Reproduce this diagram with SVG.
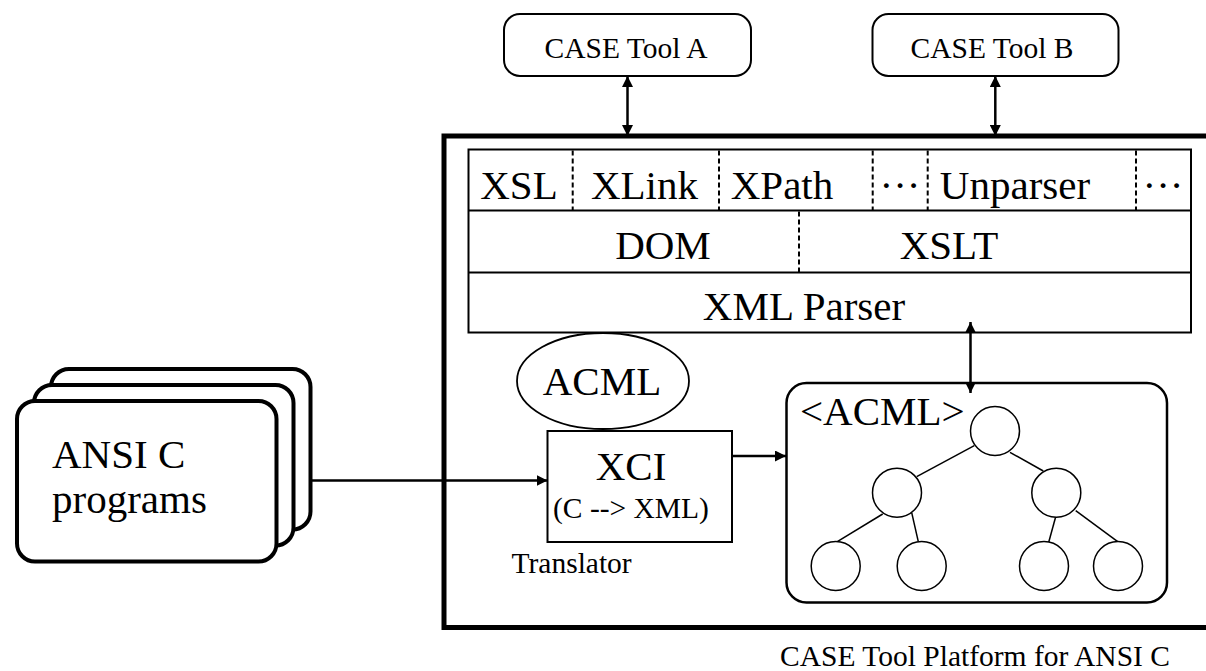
<svg xmlns="http://www.w3.org/2000/svg" width="1206" height="671" viewBox="0 0 1206 671">
  <style>
    text { font-family: "Liberation Serif", "Times New Roman", serif; fill: #000; }
    .big { font-size: 41px; }
    .small { font-size: 29.5px; }
    .mid { text-anchor: middle; }
    .box { fill: #fff; stroke: #000; stroke-width: 2; }
    .thick { fill: #fff; stroke: #000; stroke-width: 4; }
    .dash { stroke: #000; stroke-width: 2; stroke-dasharray: 5 3; fill: none; }
    .rule { stroke: #000; stroke-width: 2; fill: none; }
    .edge { stroke: #000; stroke-width: 1.5; fill: none; }
    .node { fill: #fff; stroke: #000; stroke-width: 1.5; }
    .conn { stroke: #000; stroke-width: 2.5; fill: none; }
  </style>
  <defs>
    <marker id="arrow" markerUnits="userSpaceOnUse" markerWidth="12" markerHeight="11" refX="11" refY="5.5" orient="auto-start-reverse">
      <path d="M0,0 L11,5.5 L0,11 Z" fill="#000"/>
    </marker>
  </defs>

  <rect width="1206" height="671" fill="#fff"/>

  <!-- platform frame -->
  <g id="platform">
    <rect x="444" y="136" width="770" height="491.5" fill="none" stroke="#000" stroke-width="5"/>
    <text class="small" x="780" y="666">CASE Tool Platform for ANSI C</text>
  </g>

  <!-- external CASE tools -->
  <g id="case-tool-a">
    <rect class="box" x="504" y="14" width="247" height="62" rx="16"/>
    <text class="small mid" x="626" y="58">CASE Tool A</text>
  </g>
  <g id="case-tool-b">
    <rect class="box" x="872.5" y="14" width="246" height="62" rx="16"/>
    <text class="small mid" x="992" y="58">CASE Tool B</text>
  </g>

  <!-- XML library stack -->
  <g id="xml-stack">
    <rect class="box" x="468.5" y="149.5" width="722.5" height="183"/>
    <line class="rule" x1="468.5" y1="210.5" x2="1191" y2="210.5"/>
    <line class="rule" x1="468.5" y1="272.5" x2="1191" y2="272.5"/>
    <line class="dash" x1="572.7" y1="150.5" x2="572.7" y2="210"/>
    <line class="dash" x1="719" y1="150.5" x2="719" y2="210"/>
    <line class="dash" x1="872.7" y1="150.5" x2="872.7" y2="210"/>
    <line class="dash" x1="927.7" y1="150.5" x2="927.7" y2="210"/>
    <line class="dash" x1="1136" y1="150.5" x2="1136" y2="210"/>
    <line class="dash" x1="799" y1="211.5" x2="799" y2="272"/>
    <text class="big mid" x="519" y="199">XSL</text>
    <text class="big mid" x="644.5" y="199">XLink</text>
    <text class="big mid" x="782" y="199">XPath</text>
    <text class="big mid" x="900" y="199">···</text>
    <text class="big mid" x="1015" y="199">Unparser</text>
    <text class="big mid" x="1163" y="199">···</text>
    <text class="big mid" x="663" y="259">DOM</text>
    <text class="big mid" x="949" y="259">XSLT</text>
    <text class="big mid" x="804" y="320">XML Parser</text>
  </g>

  <!-- ACML label -->
  <g id="acml">
    <ellipse cx="603" cy="381" rx="86" ry="48" fill="#fff" stroke="#000" stroke-width="1.8"/>
    <text class="big mid" x="602" y="395">ACML</text>
  </g>

  <!-- translator -->
  <g id="xci">
    <rect class="box" x="547.5" y="431" width="184.5" height="111"/>
    <text class="big mid" x="631" y="480">XCI</text>
    <text class="small mid" x="631" y="518">(C --&gt; XML)</text>
    <text class="small" x="511.5" y="572.5">Translator</text>
  </g>

  <!-- input programs (stacked sheets) -->
  <g id="ansi-c">
    <rect class="thick" x="51" y="369" width="259.5" height="160.5" rx="18"/>
    <rect class="thick" x="34" y="385" width="259.5" height="160.5" rx="18"/>
    <rect class="thick" x="17" y="401" width="259.5" height="160.5" rx="18"/>
    <text class="big" x="52" y="468">ANSI C</text>
    <text class="big" x="52" y="513">programs</text>
  </g>

  <!-- ACML document tree -->
  <g id="acml-tree">
    <rect x="786.5" y="383" width="380.5" height="219.5" rx="20" fill="#fff" stroke="#000" stroke-width="2.5"/>
    <text class="big" x="800" y="425">&lt;ACML&gt;</text>
    <line class="edge" x1="974.3" y1="445.7" x2="916.7" y2="476.7"/>
    <line class="edge" x1="1010" y1="452.3" x2="1043.3" y2="471"/>
    <line class="edge" x1="882.7" y1="514" x2="837.3" y2="541.7"/>
    <line class="edge" x1="911.7" y1="512.7" x2="918.3" y2="541.7"/>
    <line class="edge" x1="1055.7" y1="516.7" x2="1048.7" y2="542.3"/>
    <line class="edge" x1="1075.7" y1="510.7" x2="1117.7" y2="541.7"/>
    <circle class="node" cx="995" cy="431" r="24.5"/>
    <circle class="node" cx="897" cy="492.7" r="24.5"/>
    <circle class="node" cx="1056.3" cy="492.7" r="24.5"/>
    <circle class="node" cx="835.7" cy="566" r="24.5"/>
    <circle class="node" cx="921.7" cy="566" r="24.5"/>
    <circle class="node" cx="1044" cy="566" r="24.5"/>
    <circle class="node" cx="1118" cy="566" r="24.5"/>
  </g>

  <!-- connectors -->
  <g id="connectors">
    <line class="conn" x1="627.5" y1="76" x2="627.5" y2="136" marker-start="url(#arrow)" marker-end="url(#arrow)"/>
    <line class="conn" x1="995.3" y1="76" x2="995.3" y2="136" marker-start="url(#arrow)" marker-end="url(#arrow)"/>
    <line class="conn" x1="970.5" y1="322" x2="970.5" y2="393" marker-start="url(#arrow)" marker-end="url(#arrow)"/>
    <line class="conn" x1="312" y1="480.5" x2="547.5" y2="480.5" marker-end="url(#arrow)"/>
    <line class="conn" x1="732" y1="456" x2="786" y2="456" marker-end="url(#arrow)"/>
  </g>
</svg>
